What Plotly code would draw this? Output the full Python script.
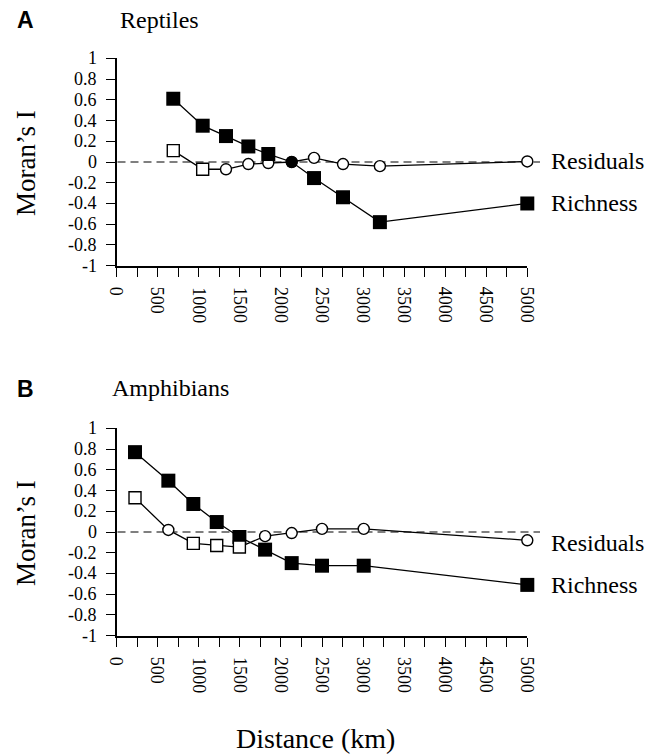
import plotly.graph_objects as go

# ---------------- data ----------------
dist_A = [689, 1047, 1331, 1603, 1846, 2131, 2403, 2756, 3205, 5000]
rich_A = [0.61, 0.35, 0.25, 0.15, 0.077, 0.0, -0.155, -0.34, -0.58, -0.40]
rich_sig_A = [1, 1, 1, 1, 1, 0, 1, 1, 1, 1]
resid_A = [0.11, -0.07, -0.07, -0.02, -0.01, 0.0, 0.04, -0.02, -0.04, 0.005]
resid_sig_A = [1, 1, 0, 0, 0, 0, 0, 0, 0, 0]

dist_B = [223, 629, 933, 1218, 1494, 1807, 2131, 2500, 3008, 5000]
rich_B = [0.77, 0.495, 0.27, 0.096, -0.048, -0.17, -0.30, -0.325, -0.325, -0.51]
rich_sig_B = [1, 1, 1, 1, 1, 1, 1, 1, 1, 1]
resid_B = [0.33, 0.02, -0.11, -0.13, -0.145, -0.04, -0.01, 0.03, 0.03, -0.08]
resid_sig_B = [1, 0, 1, 1, 1, 0, 0, 0, 0, 0]

y_ticks = [1, 0.8, 0.6, 0.4, 0.2, 0, -0.2, -0.4, -0.6, -0.8, -1]
y_ticktext = ["1", "0.8", "0.6", "0.4", "0.2", "0", "-0.2", "-0.4", "-0.6", "-0.8", "-1"]
x_ticks = [0, 250, 500, 750, 1000, 1250, 1500, 1750, 2000, 2250, 2500, 2750,
           3000, 3250, 3500, 3750, 4000, 4250, 4500, 4750, 5000]
x_ticktext = ["0", "", "500", "", "1000", "", "1500", "", "2000", "", "2500", "",
              "3000", "", "3500", "", "4000", "", "4500", "", "5000"]

W, H = 661, 756
SERIF = "Liberation Serif"
SANS = "Liberation Sans"


def px_x(p):
    return p / W


def px_y(p):
    return 1 - p / H


fig = go.Figure()


def rich_trace(x, y, sig, xa, ya):
    return go.Scatter(
        x=x, y=y, xaxis=xa, yaxis=ya, mode="lines+markers", cliponaxis=False,
        line=dict(color="black", width=1.3),
        marker=dict(symbol=["square" if s else "circle" for s in sig],
                    size=[14 if s else 12 for s in sig], color="black", opacity=1,
                    line=dict(color="black", width=0)),
        showlegend=False, hoverinfo="x+y")


def resid_trace(x, y, sig, xa, ya):
    return go.Scatter(
        x=x, y=y, xaxis=xa, yaxis=ya, mode="lines+markers", cliponaxis=False,
        line=dict(color="black", width=1.3),
        marker=dict(symbol=["square" if s else "circle" for s in sig],
                    size=[12 if s else 11 for s in sig], color="white", opacity=1,
                    line=dict(color="black", width=1.4)),
        showlegend=False, hoverinfo="x+y")


# Panel A: residuals under, richness on top
fig.add_trace(resid_trace(dist_A, resid_A, resid_sig_A, "x", "y"))
fig.add_trace(rich_trace(dist_A, rich_A, rich_sig_A, "x", "y"))
# Panel B: richness under, residuals on top
fig.add_trace(rich_trace(dist_B, rich_B, rich_sig_B, "x2", "y2"))
fig.add_trace(resid_trace(dist_B, resid_B, resid_sig_B, "x2", "y2"))

xdom = [px_x(116.7), px_x(527.3)]
ydomA = [px_y(265.7), px_y(58.3)]
ydomB = [px_y(635.7), px_y(428.3)]

fig.update_layout(
    width=W, height=H,
    margin=dict(l=0, r=0, t=0, b=0),
    font=dict(family=SERIF, size=18, color="black"),
    paper_bgcolor="white", plot_bgcolor="white",
    xaxis=dict(anchor="y", domain=xdom),
    yaxis=dict(anchor="x", domain=ydomA),
    xaxis2=dict(anchor="y2", domain=xdom),
    yaxis2=dict(anchor="x2", domain=ydomB),
    showlegend=False,
)

fig.update_xaxes(
    range=[0, 5000], tickmode="array", tickvals=x_ticks, ticktext=x_ticktext,
    ticks="outside", ticklen=9, tickwidth=1.3, tickcolor="black", showticklabels=False,
    showline=True, linecolor="black", linewidth=1.6, showgrid=False, zeroline=False,
    automargin=False, fixedrange=True,
)
fig.update_yaxes(
    range=[-1, 1], tickmode="array", tickvals=y_ticks, ticktext=y_ticktext,
    ticks="outside", ticklen=9, tickwidth=1.3, tickcolor="black", showticklabels=False,
    showline=True, linecolor="black", linewidth=1.6, showgrid=False, zeroline=False,
    automargin=False, fixedrange=True,
)

# dashed zero lines (extend slightly beyond the 5000 end)
for yref in ["y", "y2"]:
    fig.add_shape(type="line", xref="paper", yref=yref,
                  x0=px_x(117.5), x1=px_x(540), y0=0, y1=0,
                  line=dict(color="#555555", width=1.4, dash="8px,5px"), layer="below")

annots = []
# panel letters and titles
annots.append(dict(text="<b>A</b>", x=px_x(25), y=px_y(20), font=dict(family=SANS, size=23, color="black")))
annots.append(dict(text="Reptiles", x=px_x(118), y=px_y(20), xanchor="left", font=dict(family=SERIF, size=24, color="black")))
annots.append(dict(text="<b>B</b>", x=px_x(25), y=px_y(389), font=dict(family=SANS, size=23, color="black")))
annots.append(dict(text="Amphibians", x=px_x(110), y=px_y(388), xanchor="left", font=dict(family=SERIF, size=24, color="black")))
# y titles
for yc in [163, 533]:
    annots.append(dict(text="Moran\u2019s I", x=px_x(26), y=px_y(yc), textangle=-90,
                       font=dict(family=SERIF, size=27, color="black")))
# x title
annots.append(dict(text="Distance (km)", x=px_x(315), y=px_y(738), font=dict(family=SERIF, size=28, color="black")))

for a in annots:
    a.setdefault("xanchor", "center")
    a.update(xref="paper", yref="paper", yanchor="middle", showarrow=False)

tick_font = dict(family=SERIF, size=18, color="black")
# tick labels placed through the axes' own scales
for xr, yr, xlab_top in [("x", "y", 285.0), ("x2", "y2", 655.0)]:
    for v, t in zip(y_ticks, y_ticktext):
        annots.append(dict(text=t, x=px_x(99), xref="paper", y=v, yref=yr,
                           xanchor="right", yanchor="middle", showarrow=False, font=tick_font))
    for v, t in zip(x_ticks, x_ticktext):
        if t:
            annots.append(dict(text=t, x=v, xref=xr, y=px_y(xlab_top), yref="paper",
                               xanchor="center", yanchor="top", textangle=90,
                               showarrow=False, font=tick_font))

# series labels at the end of each series
series_labels = [
    ("Residuals", "x", "y", dist_A[-1], resid_A[-1], 0),
    ("Richness", "x", "y", dist_A[-1], rich_A[-1], 0),
    ("Residuals", "x2", "y2", dist_B[-1], resid_B[-1], -3),
    ("Richness", "x2", "y2", dist_B[-1], rich_B[-1], 0),
]
for txt, xr, yr, xv, yv, ys in series_labels:
    annots.append(dict(text=txt, x=xv, y=yv, xref=xr, yref=yr, xanchor="left", yanchor="middle",
                       xshift=22, yshift=ys, showarrow=False,
                       font=dict(family=SERIF, size=24, color="black")))

fig.update_layout(annotations=annots)

fig.write_html(
    "out.html",
    config={"displayModeBar": False},
    post_script="document.body.style.margin='0';document.body.style.padding='0';",
)
